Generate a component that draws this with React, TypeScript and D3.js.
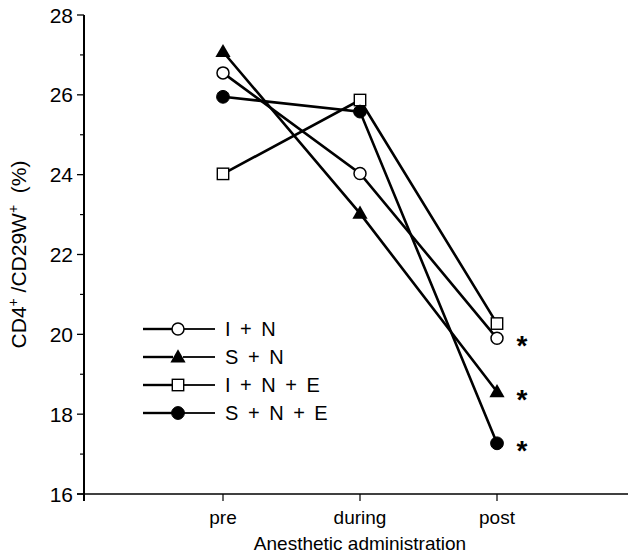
import React from "react";
import * as d3 from "d3";

const categories = ["pre", "during", "post"];
const yTicks = [16, 18, 20, 22, 24, 26, 28];
const yMinorTicks = [17, 19, 21, 23, 25, 27];
const seriesNames = ["I + N", "S + N", "I + N + E", "S + N + E"];
const seriesMarkers = ["openCircle", "filledTriangle", "openSquare", "filledCircle"];
const valuesIN = [26.55, 24.03, 19.9];
const valuesSN = [27.08, 23.03, 18.56];
const valuesINE = [24.02, 25.87, 20.27];
const valuesSNE = [25.95, 25.58, 17.27];
const seriesValues = [valuesIN, valuesSN, valuesINE, valuesSNE];
const significantPost = [true, true, false, true];

const W = 631;
const H = 558;
const FONT = "'Liberation Sans', Arial, Helvetica, sans-serif";

function Marker({ type, x, y }: { type: string; x: number; y: number }) {
  if (type === "openCircle")
    return <circle cx={x} cy={y} r={6} fill="#fff" stroke="#000" strokeWidth={1.5} />;
  if (type === "filledCircle")
    return <circle cx={x} cy={y} r={6.4} fill="#000" stroke="#000" strokeWidth={1} />;
  if (type === "openSquare")
    return <rect x={x - 5.7} y={y - 5.7} width={11.4} height={11.4} fill="#fff" stroke="#000" strokeWidth={1.4} />;
  const tri = d3.symbol().type(d3.symbolTriangle).size(100)();
  return <path d={tri || ""} transform={`translate(${x},${y + 1})`} fill="#000" />;
}

export default function App() {
  const x = d3.scaleLinear().domain([0, 4]).range([86, 634]);
  const y = d3.scaleLinear().domain([16, 28]).range([494, 15]);
  const axisX = 84;
  const axisY = y(16);
  const line = d3
    .line<number>()
    .x((_, i) => x(i + 1))
    .y((d) => y(d));

  const legendX0 = 143;
  const legendRows = [329, 357, 385, 413];

  return (
    <svg width={W} height={H} style={{ position: "absolute", left: 0, top: 0, background: "#fff" }}>
      <rect width={W} height={H} fill="#fff" />
      {/* y axis */}
      <line x1={axisX} x2={axisX} y1={y(28)} y2={axisY + 7} stroke="#000" strokeWidth={2} />
      {yTicks.map((t) => (
        <g key={t}>
          <line x1={axisX - 7} x2={axisX} y1={y(t)} y2={y(t)} stroke="#000" strokeWidth={1.3} />
          <text x={axisX - 11} y={y(t)} dy="0.36em" textAnchor="end" fontSize={21} fontFamily={FONT}>
            {t}
          </text>
        </g>
      ))}
      {yMinorTicks.map((t) => (
        <line key={t} x1={axisX - 4} x2={axisX} y1={y(t)} y2={y(t)} stroke="#000" strokeWidth={1.2} />
      ))}
      {/* x axis */}
      <line x1={axisX - 7} x2={628} y1={axisY} y2={axisY} stroke="#000" strokeWidth={1.6} />
      {categories.map((c, i) => (
        <g key={c}>
          <line x1={x(i + 1)} x2={x(i + 1)} y1={axisY} y2={axisY + 7} stroke="#000" strokeWidth={1.2} />
          <text x={x(i + 1)} y={axisY + 30} textAnchor="middle" fontSize={19} fontFamily={FONT}>
            {c}
          </text>
        </g>
      ))}
      <text x={x(2)} y={axisY + 56} textAnchor="middle" fontSize={19} fontFamily={FONT}>
        Anesthetic administration
      </text>
      <text
        transform={`translate(26,${(y(28) + axisY) / 2}) rotate(-90)`}
        textAnchor="middle"
        fontSize={21}
        fontFamily={FONT}
        style={{ whiteSpace: "pre" }}
      >
        CD4<tspan fontSize={14} dy={-8}>+</tspan>
        <tspan dy={8}> /CD29W</tspan>
        <tspan fontSize={14} dy={-8}>+</tspan>
        <tspan dy={8}>  (%)</tspan>
      </text>
      {/* lines */}
      {seriesValues.map((vals, s) => (
        <path key={s} d={line(vals) || ""} fill="none" stroke="#000" strokeWidth={2.6} />
      ))}
      {seriesValues.map((vals, s) =>
        vals.map((v, i) => <Marker key={`${s}-${i}`} type={seriesMarkers[s]} x={x(i + 1)} y={y(v)} />)
      )}
      {/* significance asterisks */}
      {seriesValues.map((vals, s) =>
        significantPost[s] ? (
          <text key={s} x={x(3) + 25} y={y(vals[2]) + 17} textAnchor="middle" fontSize={28} fontWeight="bold" fontFamily={FONT}>
            *
          </text>
        ) : null
      )}
      {/* legend */}
      {seriesNames.map((name, s) => (
        <g key={name}>
          <line x1={legendX0} x2={legendX0 + 30} y1={legendRows[s]} y2={legendRows[s]} stroke="#000" strokeWidth={2.4} />
          <line x1={legendX0 + 40} x2={legendX0 + 72} y1={legendRows[s]} y2={legendRows[s]} stroke="#000" strokeWidth={1.8} />
          <Marker type={seriesMarkers[s]} x={legendX0 + 35} y={legendRows[s]} />
          <text x={legendX0 + 82} y={legendRows[s]} dy="0.36em" fontSize={20} wordSpacing={4} fontFamily={FONT} style={{ whiteSpace: "pre" }}>
            {name}
          </text>
        </g>
      ))}
    </svg>
  );
}
